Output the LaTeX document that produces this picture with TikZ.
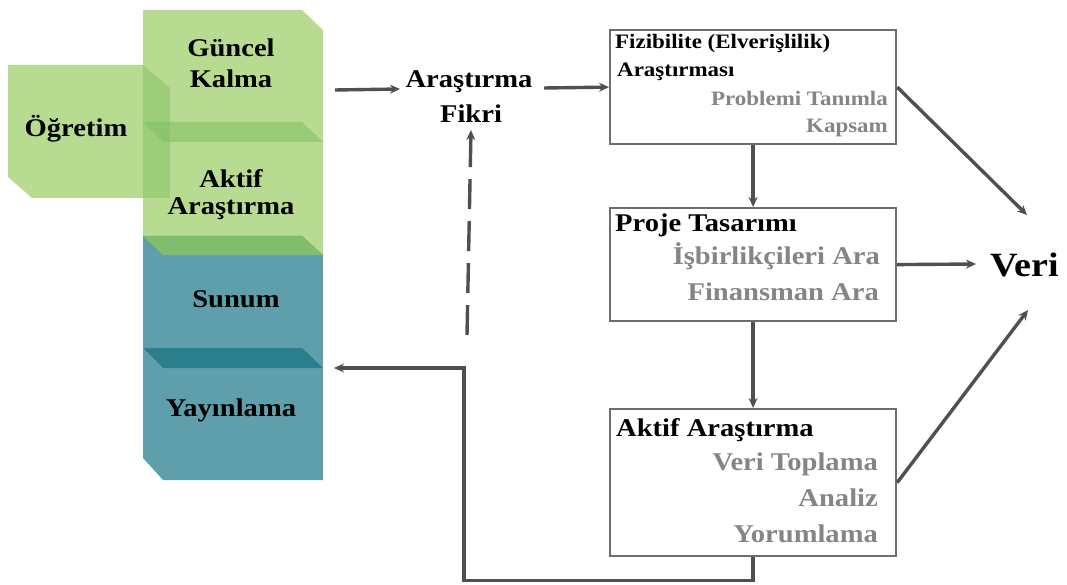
\documentclass[tikz,border=0pt]{standalone}
\usepackage{fontspec}
\setmainfont{Liberation Serif}[FakeStretch=1.12]
\usetikzlibrary{arrows.meta}

\definecolor{leaf}{HTML}{B8DB92}
\definecolor{leafband}{HTML}{7CBF5E}
\definecolor{leafdark}{HTML}{80BD6C}
\definecolor{sea}{HTML}{5F9EAB}
\definecolor{seadark}{HTML}{2B7F8D}
\definecolor{boxline}{HTML}{6E6E6E}
\definecolor{arrowgray}{HTML}{505050}
\definecolor{subgray}{HTML}{858585}

\tikzset{
  big/.style={font=\bfseries\fontsize{25.5}{30}\selectfont, inner sep=0pt, text=black},
  small/.style={font=\bfseries\fontsize{20.5}{24}\selectfont, inner sep=0pt, text=black},
  faded/.style={text=subgray},
  stage/.style={draw=boxline, line width=2.2pt, fill=white, inner sep=0pt, anchor=north west},
  link/.style={draw=arrowgray, line width=3.4pt, -{Stealth[length=10pt,width=9pt]}},
}

\begin{document}
\begin{tikzpicture}[x=1pt,y=-1pt]
\useasboundingbox (0,0) rectangle (1067,585);

% stacked blocks on the left
\fill[leaf] (143,10) -- (302,10) -- (323,30) -- (323,255) -- (143,255) -- cycle;
\fill[sea] (143,236) -- (302,236) -- (323,255) -- (323,480) -- (163,480) -- (143,458) -- cycle;
\fill[leafdark] (143,236) -- (302,236) -- (323,255) -- (163,255) -- cycle;
\fill[seadark] (143,348) -- (302,348) -- (323,368) -- (163,368) -- cycle;
\fill[leaf] (8,65) -- (170,65) -- (170,198) -- (32,198) -- (8,177) -- cycle;
\fill[leafband, fill opacity=0.45] (143,65) -- (170,88) -- (170,198) -- (143,198) -- cycle;
\fill[leafband, fill opacity=0.5] (143,122) -- (302,122) -- (323,142) -- (163,142) -- cycle;

\node[big, anchor=base] (guncel1) at (231,57) {Güncel};
\node[big, anchor=base] (guncel2) at (231,88) {Kalma};
\node[big, anchor=base] (ogretim) at (76,137) {Öğretim};
\node[big, anchor=base] (aktif1) at (231,188) {Aktif};
\node[big, anchor=base] (aktif2) at (231,215) {Araştırma};
\node[big, anchor=base] (sunum) at (236,307) {Sunum};
\node[big, anchor=base] (yayin) at (231,416) {Yayınlama};

\coordinate (gkout) at (335,90);
\coordinate (pubin) at (334,368);
\coordinate (turn) at (464,368);

% research idea
\node[big, anchor=base] (fikri1) at (469,88) {Araştırma};
\node[big, anchor=base] (fikri2) at (471,123) {Fikri};
\coordinate (fikriin) at (400,89);
\coordinate (fikriout) at (544,88);
\coordinate (fikritip) at (471,130);
\coordinate (dashfoot) at (467,335);

% stage boxes
\node[stage, minimum width=286, minimum height=114] (fiz) at (609,29) {};
\node[small, anchor=base west] (fiz1) at (615,49) {Fizibilite (Elverişlilik)};
\node[small, anchor=base west] (fiz2) at (617,77) {Araştırması};
\node[small, faded, anchor=base east] (fiz3) at (888,106) {Problemi Tanımla};
\node[small, faded, anchor=base east] (fiz4) at (888,133) {Kapsam};

\node[stage, minimum width=286, minimum height=113] (proj) at (609,207) {};
\node[big, anchor=base west] (proj1) at (615,232) {Proje Tasarımı};
\node[big, faded, anchor=base east] (proj2) at (880,265) {İşbirlikçileri Ara};
\node[big, faded, anchor=base east] (proj3) at (879,300) {Finansman Ara};

\node[stage, minimum width=286, minimum height=147] (act) at (609,408) {};
\node[big, anchor=base west] (act1) at (616,436) {Aktif Araştırma};
\node[big, faded, anchor=base east] (act2) at (878,470) {Veri Toplama};
\node[big, faded, anchor=base east] (act3) at (878,506) {Analiz};
\node[big, faded, anchor=base east] (act4) at (878,542) {Yorumlama};

% data
\node[font=\bfseries\fontsize{34}{38}\selectfont, inner sep=0pt, anchor=base west] (veri) at (990,276) {Veri};
\coordinate (veritop) at (1027,215);
\coordinate (verimid) at (976,264);
\coordinate (veribot) at (1028,310);

% connectors
\draw[link] (gkout) -- (fikriin);
\draw[link] (fikriout) -- (fiz.west);
\draw[link] (fiz.south) -- (proj.north);
\draw[link] (proj.south) -- (act.north);
\draw[link] (act.south) -- ++(0,23) -| (turn) -- (pubin);
\draw[link, dash pattern=on 30pt off 12pt] (dashfoot) -- (fikritip);
\draw[link] (fiz.east) -- (veritop);
\draw[link] (proj.east) -- (verimid);
\draw[link] (act.east) -- (veribot);
\end{tikzpicture}
\end{document}
